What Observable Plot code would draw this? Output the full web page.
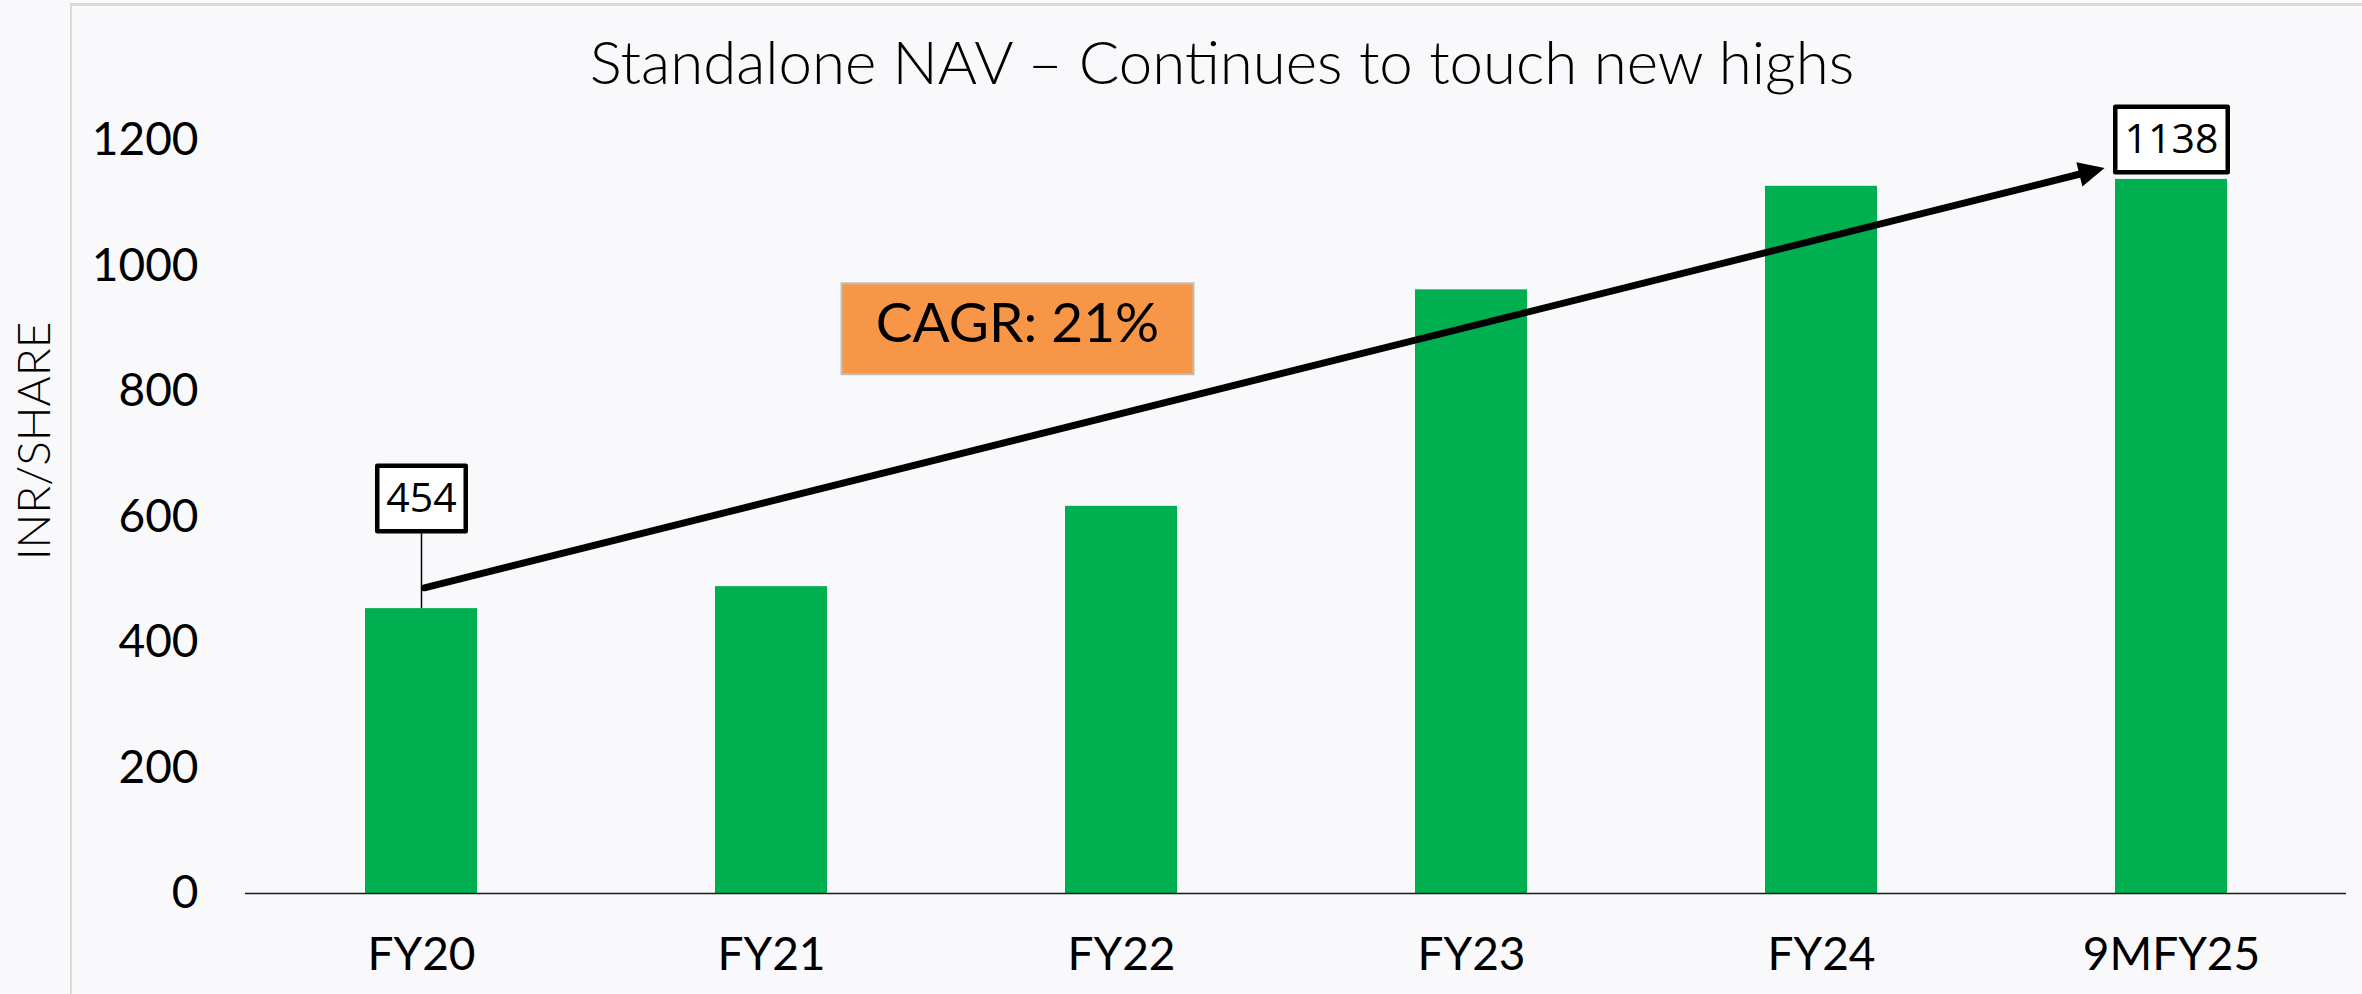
<!DOCTYPE html>
<html><head><meta charset="utf-8">
<script src="https://cdn.jsdelivr.net/npm/d3@7"></script>
<script src="https://cdn.jsdelivr.net/npm/@observablehq/plot@0.6"></script>
<style>
html,body{margin:0;padding:0;background:#F9F9FB;}
#wrap{position:relative;width:2362px;height:994px;overflow:hidden;background:#F9F9FB;}
#frame{position:absolute;left:70px;top:3px;right:0;bottom:0;border-top:3px solid #DADADA;border-left:2px solid #DADADA;}
#title{position:relative;height:96px;box-sizing:border-box;padding-top:25px;padding-left:82px;text-align:center;font-family:Lato,sans-serif;font-weight:300;font-size:60px;color:#000;white-space:nowrap;line-height:normal;}
#chart{position:relative;}
</style></head>
<body><div id="wrap"><div id="frame"></div><div id="title">Standalone NAV – Continues to touch new highs</div><div id="chart"></div></div>
<script>
// ---- data ----
const categories = ["FY20", "FY21", "FY22", "FY23", "FY24", "9MFY25"];
const navPerShare = [454, 489, 617, 962, 1127, 1138];
const yTicks = [0, 200, 400, 600, 800, 1000, 1200];
const yLabel = "INR/SHARE";
const startLabelCat = ["FY20"];
const endLabelCat = ["9MFY25"];
const trendCats = ["FY20", "9MFY25"];
const trendValues = [486, 1183];
const cagrText = ["CAGR: 21%"];
const cagrAnchorCat = ["FY22"];
const cagrAnchorValue = [900];

const data = categories.map((c, i) => ({cat: c, value: navPerShare[i]}));
const startLabel = data.filter(d => startLabelCat.includes(d.cat));
const endLabel = data.filter(d => endLabelCat.includes(d.cat));
const trend = [{x1: trendCats[0], y1: trendValues[0], x2: trendCats[1], y2: trendValues[1]}];
const trendEnd = [{cat: trendCats[1], value: trendValues[1]}];
const cagr = cagrText.map((t, i) => ({text: t, cat: cagrAnchorCat[i], value: cagrAnchorValue[i]}));

// styling helpers
const boxSymbol = (w, h) => ({draw(ctx) {
  ctx.moveTo(-w / 2, -h / 2); ctx.lineTo(w / 2, -h / 2); ctx.lineTo(w / 2, h / 2); ctx.lineTo(-w / 2, h / 2); ctx.closePath();
}});
const theta = Math.atan2(421, 1680); // on-screen slope of the trend arrow
const headLen = 26, headHalf = 12.5, tipInset = 69;
const ux = Math.cos(theta), uy = -Math.sin(theta), nx = -uy, ny = ux;
const headSymbol = {draw(ctx) {
  ctx.moveTo(0, 0);
  ctx.lineTo(-headLen * ux + headHalf * nx, -headLen * uy + headHalf * ny);
  ctx.lineTo(-headLen * ux - headHalf * nx, -headLen * uy - headHalf * ny);
  ctx.closePath();
}};

const chart = Plot.plot({
  width: 2362,
  height: 898,
  marginTop: 44,
  marginBottom: 101,
  marginLeft: 245,
  marginRight: 16,
  style: {fontFamily: "Lato, sans-serif", fontSize: "46px", color: "#000", background: "transparent", overflow: "visible"},
  x: {domain: categories, paddingInner: 0.68, paddingOuter: 0.34, axis: null},
  y: {domain: [0, 1200], axis: null},
  marks: [
    Plot.barY(data, {x: "cat", y: "value", fill: "#00B050"}),
    Plot.ruleY([0], {stroke: "#1a1a1a", strokeWidth: 1.6}),
    Plot.axisY(yTicks, {tickSize: 0, tickPadding: 47, label: null, fontSize: 46, fill: "#000", tickFormat: d => String(d)}),
    Plot.axisX(categories, {tickSize: 0, tickPadding: 44, label: null, fontSize: 46, fill: "#000"}),
    Plot.text([yLabel], {frameAnchor: "left", dx: -210, dy: -76, rotate: -90, textAnchor: "middle", lineAnchor: "middle", fontSize: 46, fontWeight: 300, fill: "#000"}),
    Plot.ruleX(startLabel, {x: "cat", y1: "value", y2: "value", insetTop: -75, stroke: "#000", strokeWidth: 1.5}),
    Plot.arrow(trend, {x1: "x1", y1: "y1", x2: "x2", y2: "y2", stroke: "#000", strokeWidth: 7, headLength: 0, insetStart: 3, insetEnd: tipInset + 18}),
    Plot.dot(trendEnd, {x: "cat", y: "value", dx: -tipInset * ux, dy: -tipInset * uy, symbol: headSymbol, fill: "#000", stroke: "none"}),
    Plot.dot(startLabel, {x: "cat", y: "value", dy: -110, symbol: boxSymbol(88.5, 65.5), fill: "#fff", stroke: "#000", strokeWidth: 4.5, strokeLinejoin: "round"}),
    Plot.text(startLabel, {x: "cat", y: "value", dy: -110, text: d => String(d.value), fontFamily: "Open Sans, sans-serif", fontSize: 41, fill: "#000", lineAnchor: "middle"}),
    Plot.dot(endLabel, {x: "cat", y: "value", dy: -40, symbol: boxSymbol(112.5, 65.5), fill: "#fff", stroke: "#000", strokeWidth: 4.5, strokeLinejoin: "round"}),
    Plot.text(endLabel, {x: "cat", y: "value", dy: -40, text: d => String(d.value), fontFamily: "Open Sans, sans-serif", fontSize: 41, fill: "#000", lineAnchor: "middle"}),
    Plot.dot(cagr, {x: "cat", y: "value", dx: -104, symbol: boxSymbol(352, 91), fill: "#F79646", stroke: "#BFBFBF", strokeWidth: 2}),
    Plot.text(cagr, {x: "cat", y: "value", dx: -104, dy: -4, text: "text", fontSize: 55, fill: "#000", lineAnchor: "middle"})
  ]
});
document.getElementById("chart").appendChild(chart);
</script></body></html>
